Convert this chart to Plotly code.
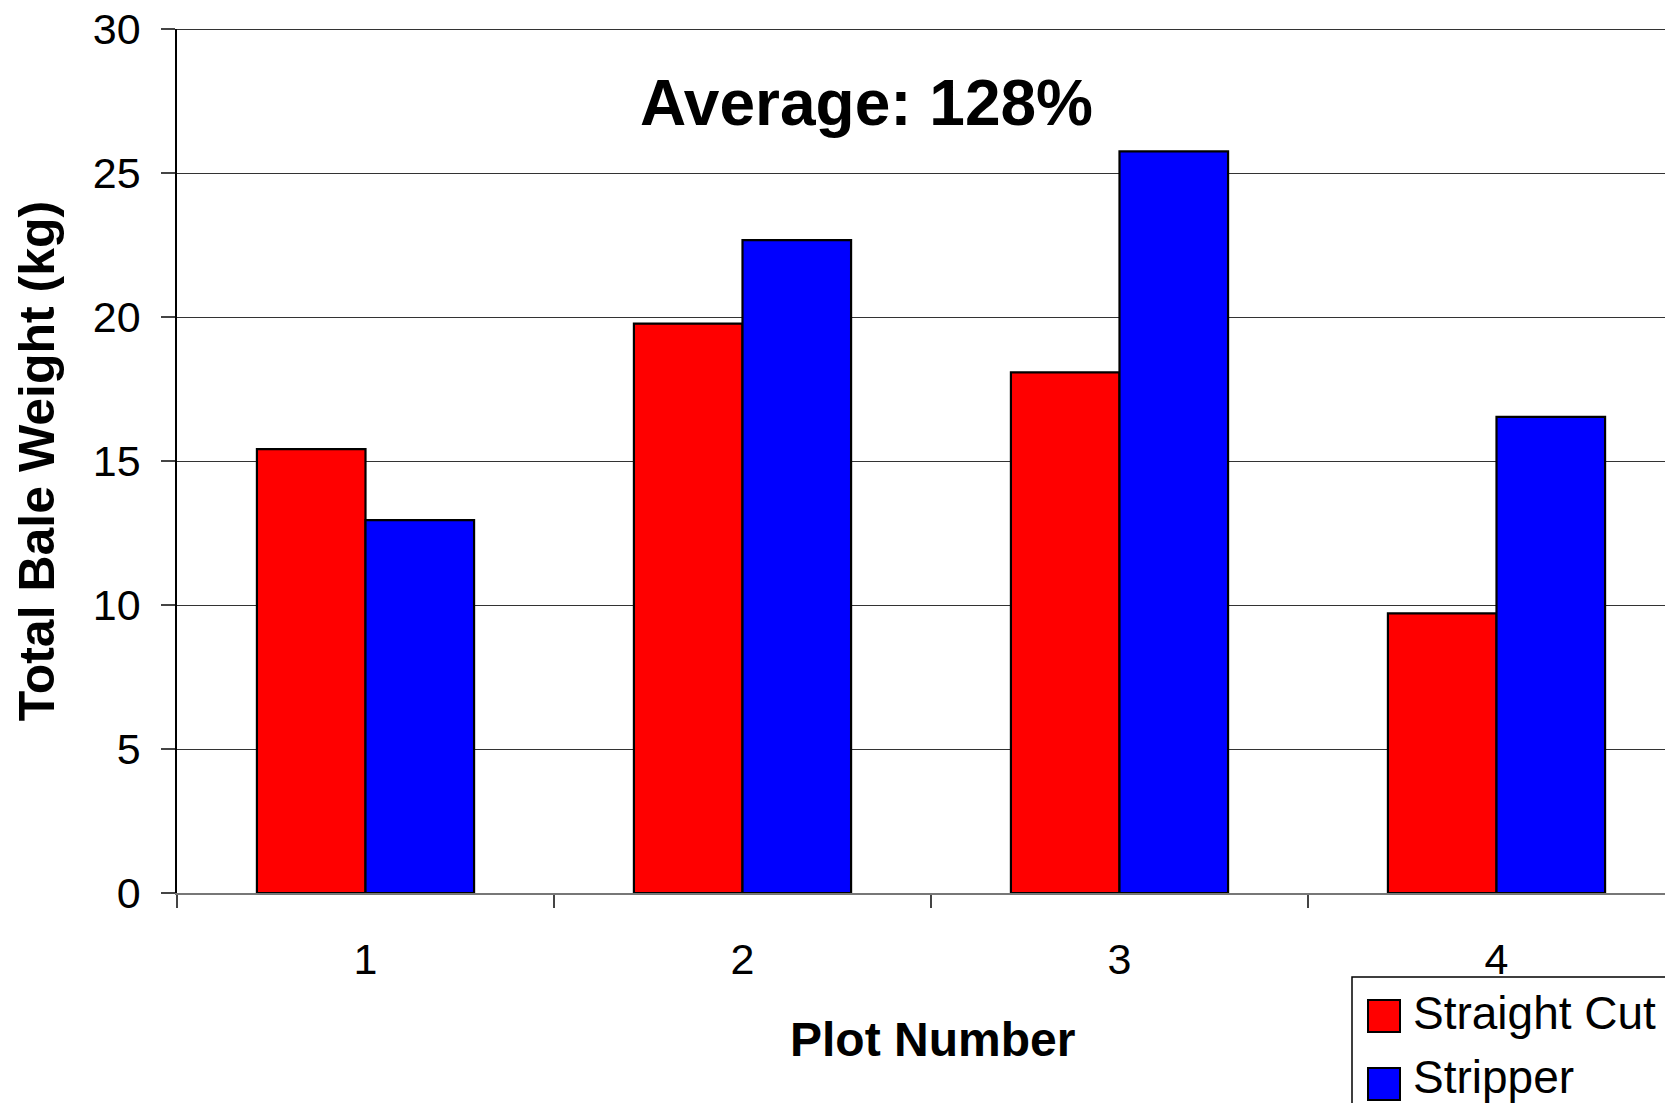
import plotly.graph_objects as go

# ---- data ----
categories = ["1", "2", "3", "4"]
series_names = ["Straight Cut", "Stripper"]
straight_cut = [15.42, 19.78, 18.08, 9.71]
stripper = [12.95, 22.68, 25.76, 16.54]
series_colors = ["#FF0000", "#0000FF"]
y_ticks = [0, 5, 10, 15, 20, 25, 30]
title_text = "Average: 128%"
x_title = "Plot Number"
y_title = "Total Bale Weight (kg)"

# page body has an 8px margin; size figure so it fits inside the window
OFF = 8
W, H = 1673 - 2 * OFF, 1111 - 2 * OFF
# desired plot area in screen pixels
SL, ST, SB, SR = 177, 29, 893, 1665
L = SL - OFF
T = ST - OFF
B = H - (SB - OFF)
R = W - (SR - OFF)
FONT = "Arial, Liberation Sans, Helvetica, sans-serif"
CAT_PX = 377.0

fig = go.Figure()
for name, vals, col in zip(series_names, [straight_cut, stripper], series_colors):
    fig.add_trace(go.Bar(
        x=categories, y=vals, name=name,
        marker=dict(color=col, line=dict(color="black", width=2.2)),
        showlegend=False,
    ))

pw = SR - SL
ph = SB - ST


def px_x(p):
    return (p - SL) / pw


def px_y(p):
    return (SB - p) / ph


annotations = [
    dict(text=f"<b>{title_text}</b>", x=px_x(866), y=px_y(103), xref="paper", yref="paper",
         showarrow=False, font=dict(family=FONT, size=64, color="black"),
         xanchor="center", yanchor="middle"),
    dict(text=f"<b>{x_title}</b>", x=px_x(932), y=px_y(1039), xref="paper", yref="paper",
         showarrow=False, font=dict(family=FONT, size=48, color="black"),
         xanchor="center", yanchor="middle"),
]
shapes = [
    # top gridline at the axis maximum
    dict(type="line", xref="paper", yref="y", x0=0, x1=1, y0=y_ticks[-1], y1=y_ticks[-1],
         line=dict(color="#333", width=1.2), layer="below"),
    dict(type="rect", xref="paper", yref="paper",
         x0=px_x(1352), x1=px_x(1720), y0=px_y(977), y1=px_y(1160),
         line=dict(color="black", width=1.5), fillcolor="white", layer="above"),
]
row_centers = [1016, 1084]
text_shift = [3, 7]
for name, col, yc, ts in zip(series_names, series_colors, row_centers, text_shift):
    shapes.append(dict(type="rect", xref="paper", yref="paper",
                       x0=px_x(1368), x1=px_x(1400), y0=px_y(yc - 16), y1=px_y(yc + 16),
                       line=dict(color="black", width=2), fillcolor=col, layer="above"))
    annotations.append(dict(text=name, x=px_x(1411), y=px_y(yc - ts), xref="paper", yref="paper",
                            showarrow=False, xanchor="left", yanchor="middle",
                            font=dict(family=FONT, size=46, color="black")))

fig.update_layout(
    width=W, height=H,
    margin=dict(l=L, r=R, t=T, b=B, pad=0),
    paper_bgcolor="white", plot_bgcolor="white",
    barmode="group", bargap=0.424, bargroupgap=0,
    font=dict(family=FONT, color="black"),
    annotations=annotations, shapes=shapes,
    showlegend=False,
)
fig.update_xaxes(
    type="category", range=[-0.5, -0.5 + pw / CAT_PX],
    tickson="boundaries", ticks="outside", ticklen=13, tickcolor="#444", tickwidth=1.5,
    showline=True, linecolor="#777", linewidth=2,
    showgrid=False, zeroline=False, automargin=False,
    tickfont=dict(family=FONT, size=43, color="black"),
    ticklabelstandoff=27, ticklabeloverflow="allow",
)
fig.update_yaxes(
    range=[0, 30.01], tickvals=y_ticks,
    ticks="outside", ticklen=14, tickcolor="#444", tickwidth=1.5,
    showline=True, linecolor="black", linewidth=1.5,
    showgrid=True, gridcolor="#333", gridwidth=1.2, zeroline=False, automargin=False,
    tickfont=dict(family=FONT, size=43, color="black"),
    ticklabelstandoff=12, ticklabeloverflow="allow",
    title=dict(text=f"<b>{y_title}</b>", font=dict(family=FONT, size=50, color="black"), standoff=22),
)

fig.write_html("out.html")
